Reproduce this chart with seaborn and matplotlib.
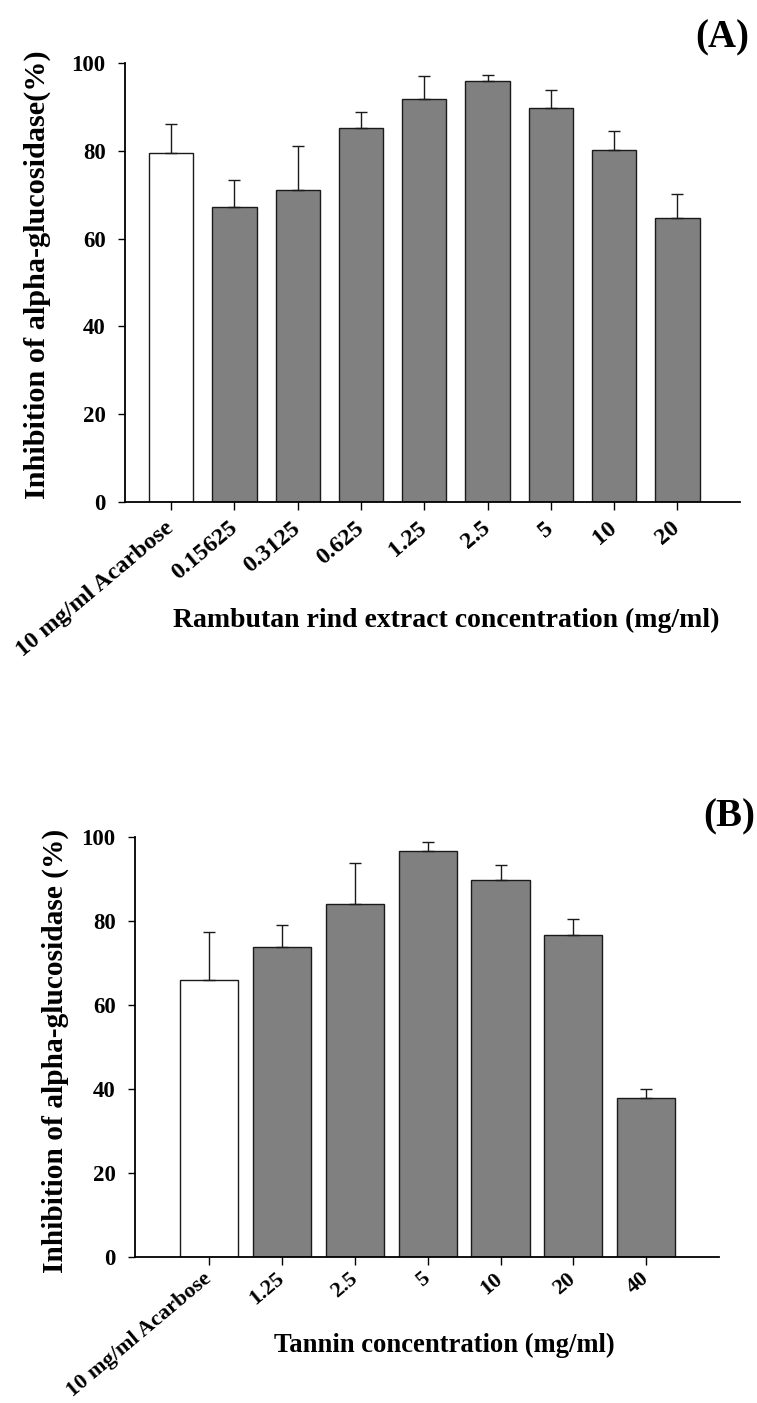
import numpy as np
import matplotlib
matplotlib.use("Agg")
import matplotlib.pyplot as plt
import seaborn as sns

# Panel A: rambutan rind extract
rind_labels = ["10 mg/ml Acarbose", "0.15625", "0.3125", "0.625", "1.25",
               "2.5", "5", "10", "20"]
rind_mean = [79.5, 67.2, 71.0, 85.2, 91.8, 95.9, 89.7, 80.2, 64.6]
rind_sd = [6.6, 6.2, 10.0, 3.6, 5.2, 1.3, 4.2, 4.2, 5.6]

# Panel B: tannin
tannin_labels = ["10 mg/ml Acarbose", "1.25", "2.5", "5", "10", "20", "40"]
tannin_mean = [65.9, 73.8, 84.1, 96.6, 89.7, 76.7, 37.8]
tannin_sd = [11.4, 5.3, 9.6, 2.2, 3.7, 3.8, 2.2]

sns.set_style("ticks")
plt.rcParams["font.family"] = ["Liberation Serif", "DejaVu Serif"]
plt.rcParams["font.weight"] = "bold"
for key in ("text.color", "axes.labelcolor", "xtick.color", "ytick.color",
            "axes.edgecolor"):
    plt.rcParams[key] = "black"

fig = plt.figure(figsize=(7.57, 14.03), dpi=100)
W, H = 757, 1403


def px_axes(left, right, top, bottom):
    return fig.add_axes([left / W, 1 - bottom / H, (right - left) / W, (bottom - top) / H])


def panel(ax, labels, mean, sd, width, xlim, xlabel, ylabel, xlabel_pos,
          ylabel_pos, xlabel_size, ylabel_size, xtick_size, xpad):
    palette = ["white"] + ["#808080"] * (len(labels) - 1)
    sns.barplot(x=labels, y=mean, hue=labels, palette=palette, legend=False,
                order=labels, width=width, edgecolor="#1a1a1a", linewidth=1.0,
                ax=ax)
    xs = np.arange(len(labels))
    ax.errorbar(xs, mean, yerr=[np.zeros(len(sd)), sd], fmt="none",
                ecolor="#1a1a1a", elinewidth=1.0, capsize=4, capthick=1.0)
    ax.set_xlim(*xlim)
    ax.set_ylim(0, 100)
    ax.set_yticks([0, 20, 40, 60, 80, 100])
    ax.set_xticks(xs)
    ax.set_xticklabels(labels, rotation=40, ha="right", va="center",
                       rotation_mode="anchor", fontsize=xtick_size,
                       fontweight="bold")
    ax.tick_params(axis="y", labelsize=16.5, length=5, width=1.0, pad=9)
    ax.tick_params(axis="x", length=6, width=1.0, pad=xpad)
    for t in ax.get_yticklabels():
        t.set_fontweight("bold")
    sns.despine(ax=ax)
    for s in ("left", "bottom"):
        ax.spines[s].set_linewidth(1.3)
    ax.set_xlabel(xlabel, fontsize=xlabel_size, fontweight="bold")
    ax.xaxis.set_label_coords(*xlabel_pos)
    ax.xaxis.label.set_va("center")
    ax.set_ylabel(ylabel, fontsize=ylabel_size, fontweight="bold")
    ax.yaxis.set_label_coords(*ylabel_pos)
    ax.yaxis.label.set_va("center")


axA = px_axes(125, 740, 63, 502)
panel(axA, rind_labels, rind_mean, rind_sd, 0.70, (-0.73, 8.99),
      "Rambutan rind extract concentration (mg/ml)",
      "Inhibition of alpha-glucosidase(%)",
      ((446 - 125) / 615, (502 - 620) / 439), ((37 - 125) / 615, 0.517),
      20, 21.8, 17.5, 11)

axB = px_axes(135, 719, 837, 1257)
panel(axB, tannin_labels, tannin_mean, tannin_sd, 0.80, (-1.02, 7.0),
      "Tannin concentration (mg/ml)",
      "Inhibition of alpha-glucosidase (%)",
      ((444 - 135) / 584, (1257 - 1345) / 420), ((55 - 135) / 584, 0.49),
      19.2, 21.2, 16.0, 8)

fig.text(695 / W, 1 - 38 / H, "(A)", fontsize=28, fontweight="bold",
         ha="left", va="center")
fig.text(703 / W, 1 - 817 / H, "(B)", fontsize=28, fontweight="bold",
         ha="left", va="center")

fig.savefig("out.png", dpi=100, facecolor="white")
